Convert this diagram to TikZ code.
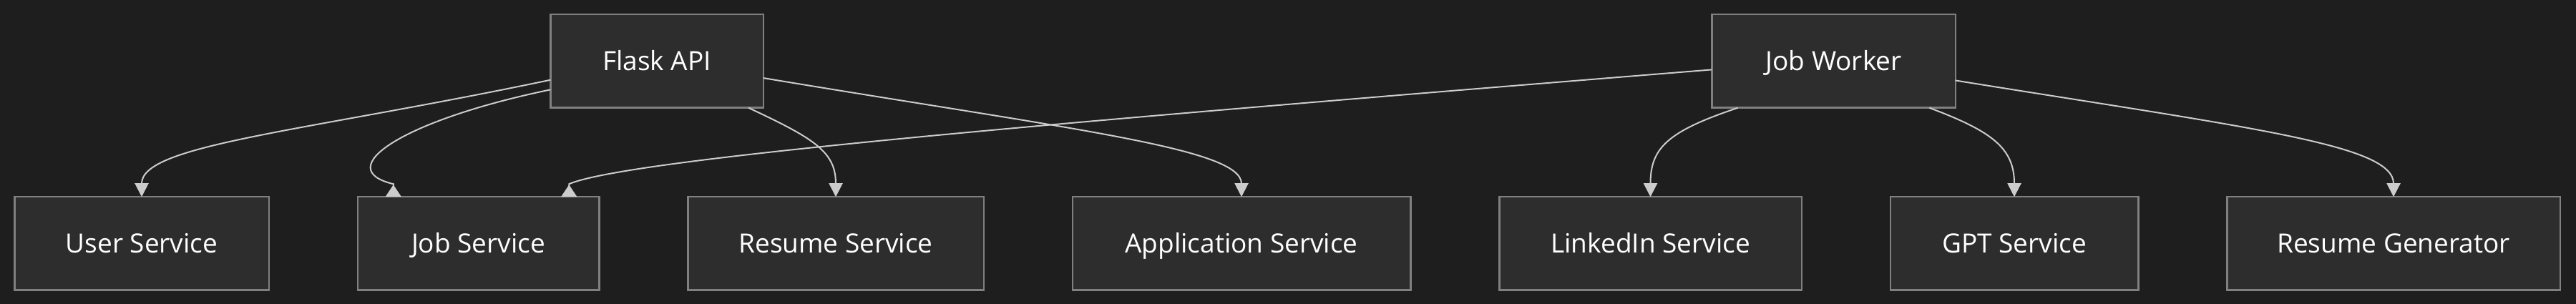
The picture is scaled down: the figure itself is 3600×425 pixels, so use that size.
\documentclass[tikz,border=0pt]{standalone}
\usepackage{fontspec}
\setmainfont{Open Sans}
\usepackage{tikz}
\usetikzlibrary{
	arrows.meta,
	positioning,
	calc
}

\definecolor{bgcol}{HTML}{1E1E1E}
\definecolor{boxcol}{HTML}{2D2D2D}
\definecolor{edgecol}{HTML}{808080}
\definecolor{linecol}{HTML}{CCCCCC}

\begin{document}
\begin{tikzpicture}[x=1pt, y=1pt, node distance=124pt,
		svc/.style={draw=edgecol, fill=boxcol, line width=2.5pt, text=white, minimum height=130.5pt, inner sep=0pt, outer sep=0pt, text height=32pt, text depth=6pt, font=\fontsize{37}{44}\selectfont},
		flow/.style={draw=linecol, line width=2pt, -{Triangle[length=19pt, width=19pt]}},
		backflow/.style={draw=linecol, line width=2pt, -{Triangle[length=17pt, width=22pt, reversed]}}]
		% background
		\fill[bgcol] (0,0) rectangle (3600,425);
		% top row
		\node[svc, minimum width=297.5pt] (flask) at (918,339.5) {Flask API};
		\node[svc, minimum width=340.5pt] (worker) at (2562.5,339.5) {Job Worker};
		% bottom row, left to right
		\node[svc, minimum width=355.5pt] (user) at (198,84.5) {User Service};
		\node[svc, minimum width=337.5pt, right=of user] (jobsvc) {Job Service};
		\node[svc, minimum width=413.5pt, right=of jobsvc] (resumesvc) {Resume Service};
		\node[svc, minimum width=472.5pt, right=of resumesvc] (appsvc) {Application Service};
		\node[svc, minimum width=422.5pt, right=of appsvc] (linkedin) {LinkedIn Service};
		\node[svc, minimum width=346.5pt, right=of linkedin] (gpt) {GPT Service};
		\node[svc, minimum width=465.5pt, right=of gpt] (resgen) {Resume Generator};
		% tips on Job Service point upwards
		\coordinate (jsleft) at ([shift={(50,18)}]jobsvc.north west);
		\coordinate (jsright) at ([shift={(-42,18)}]jobsvc.north east);
		% Flask API edges
		\draw[flow] (flask.190) .. controls +(-348,-73) and +(0,73) .. (user.north);
		\draw[backflow] (flask.195) .. controls +(-208,-43) and +(-88,21) .. (jsleft) -- (jsleft |- jobsvc.north);
		\draw[flow] (flask.333) .. controls +(92,-43) and +(0,63) .. (resumesvc.north);
		\draw[flow] (flask.351) .. controls +(432,-72) and +(0,68) .. (appsvc.north);
		% Job Worker edges
		\draw[backflow] (worker.184) .. controls +(-891,-72) and +(84,36) .. (jsright) -- (jsright |- jobsvc.north);
		\draw[flow] (worker.206) .. controls +(-99,-33) and +(0,68) .. (linkedin.north);
		\draw[flow] (worker.334) .. controls +(88,-33) and +(0,68) .. (gpt.north);
		\draw[flow] (worker.351) .. controls +(416,-67) and +(0,73) .. (resgen.north);
	\end{tikzpicture}
\end{document}
